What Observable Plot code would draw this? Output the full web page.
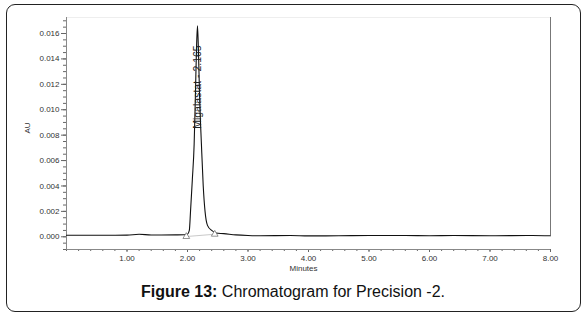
<!DOCTYPE html>
<html><head><meta charset="utf-8">
<script src="https://cdn.jsdelivr.net/npm/d3@7"></script>
<script src="https://cdn.jsdelivr.net/npm/@observablehq/plot@0.6"></script>
<style>
body{margin:0;background:#fff;width:586px;height:318px;position:relative;overflow:hidden;font-family:"Liberation Sans",Arial,sans-serif;}
#frame{position:absolute;left:6px;top:4px;width:573px;height:306px;border:1.6px solid #222;border-radius:9px;pointer-events:none;}
#chart{position:absolute;left:0;top:0;}
#cap{position:absolute;left:0;top:283px;width:586px;text-align:center;font-size:16px;color:#111;box-sizing:border-box;}
#cap b{font-weight:bold;}
</style></head>
<body>
<div id="chart"></div>
<div id="cap"><b>Figure 13:</b> Chromatogram for Precision -2.</div>
<div id="frame"></div>
<script>
const minutes = [0, 0.5, 1.0, 1.2, 1.4, 1.8, 1.95, 2.0, 2.03, 2.05, 2.08, 2.11, 2.13, 2.15, 2.165, 2.18, 2.2, 2.23, 2.26, 2.29, 2.33, 2.4, 2.47, 2.6, 2.8, 3.0, 3.2, 3.7, 4.0, 4.5, 5.0, 5.6, 6.0, 6.4, 7.0, 7.7, 8.0];
const au = [0.00012, 0.00012, 0.00013, 0.0002, 0.00014, 0.00015, 0.00016, 0.0002, 0.0005, 0.002, 0.0045, 0.0073, 0.011, 0.015, 0.0166, 0.0148, 0.011, 0.0073, 0.004, 0.002, 0.0009, 0.0005, 0.0003, 0.00025, 0.00015, 0.0001, 0.00008, 0.0001, 0.00007, 0.00008, 0.0001, 0.0001, 0.00008, 0.0001, 0.00008, 0.0001, 0.00008];
const markerMinutes = [1.98, 2.45];
const markerAu = [0.00002, 0.0002];
const peakLabel = "Migalastat - 2.165";
const peakTime = 2.165;
const yTicks = [0, 0.002, 0.004, 0.006, 0.008, 0.010, 0.012, 0.014, 0.016];
const xTicks = [1, 2, 3, 4, 5, 6, 7, 8];
const yMinor = d3.range(-0.001, 0.0171, 0.0005);
const xMinor = d3.range(0, 8.01, 0.2);

const trace = minutes.map((t, i) => ({t, v: au[i]}));
const markers = markerMinutes.map((t, i) => ({t, v: markerAu[i]}));

const plot = Plot.plot({
  width: 586, height: 280,
  marginLeft: 66, marginRight: 36, marginTop: 17, marginBottom: 31,
  style: {fontFamily: '"Liberation Sans", Arial, sans-serif', fontSize: "8px", color: "#333", background: "transparent"},
  x: {domain: [0, 8]},
  y: {domain: [-0.001, 0.01726]},
  marks: [
    Plot.ruleY([0.01726], {stroke:"#eee"}),
    Plot.ruleX([8], {y1: 0.0001, y2: 0.01726, stroke: "#777", strokeWidth: 1}),
    Plot.axisY(yMinor, {tickSize: 3, text: null, stroke: "#666", label: null}),
    Plot.axisY(yTicks, {tickSize: 5, tickFormat: d => d.toFixed(3), stroke: "#666", fill: "#333", label: null, tickPadding: 2}),
    Plot.axisX(xMinor, {tickSize: 2, text: null, stroke: "#666", label: null}),
    Plot.axisX(xTicks, {tickSize: 3, tickFormat: d => d.toFixed(2), stroke: "#666", fill: "#333", label: null, tickPadding: 3}),
    Plot.ruleX([0], {stroke: "#888"}),
    Plot.ruleY([-0.001], {stroke: "#888"}),
    Plot.line(markers, {x: "t", y: "v", stroke: "#bbb", strokeWidth: 0.8}),
    Plot.line(trace, {x: "t", y: "v", stroke: "#111", strokeWidth: 1.1, curve: "monotone-x"}),
    Plot.dot(markers, {x: "t", y: "v", symbol: "triangle", r: 2.5, stroke: "#666", strokeWidth: 0.7, fill: "white"}),
    Plot.text([peakLabel], {x: peakTime, y: 0.0085, rotate: -90, textAnchor: "start", fontSize: 10.5, fill: "#222"}),
    Plot.text(["AU"], {frameAnchor: "left", rotate: -90, dx: -39, fontSize: 8, fill: "#333"}),
    Plot.text(["Minutes"], {frameAnchor: "bottom", dy: 21, dx: -5, fontSize: 8, fill: "#333"})
  ]
});
document.getElementById("chart").appendChild(plot);
</script>
</body></html>
